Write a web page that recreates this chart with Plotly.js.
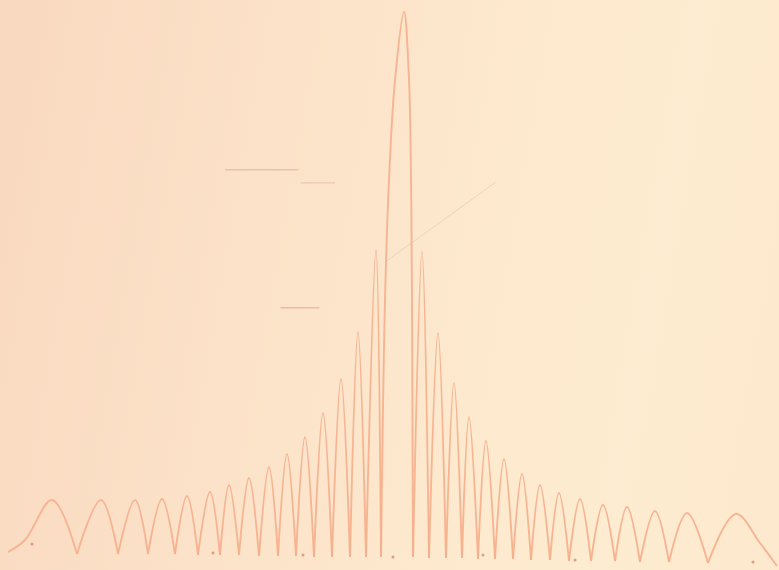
<!DOCTYPE html>
<html>
<head>
<meta charset="utf-8">
<script src="https://cdn.plot.ly/plotly-3.0.1.min.js"></script>
<style>
  html, body { margin: 0; padding: 0; }
  body {
    width: 779px; height: 570px; overflow: hidden;
    background: linear-gradient(100deg, #f9d9c0 0%, #fbe1c7 30%, #fde9ce 60%, #fdecd1 80%, #fde9cd 100%);
  }
  #chart { width: 779px; height: 570px; }
</style>
</head>
<body>
<div id="chart"></div>
<script>
// Trace of the recorded diffraction pattern: position along the scan and recorded intensity
// (intensity measured upward from the chart baseline, read off the picture)
const position = [8, 25, 52, 77, 101, 118, 135, 148, 162, 175, 187, 198, 210, 220, 229, 239, 249, 259,
  269, 278, 287, 296, 305, 314, 323, 332, 341, 350, 358, 366, 376, 381, 385, 389, 395, 404,
  409, 411, 412, 413, 422, 429, 438, 446, 454, 462, 469, 478, 486, 495, 504, 513, 522, 531,
  540, 550, 559, 569, 580, 591, 603, 615, 627, 640, 655, 669, 687, 708, 736, 760, 777];
const intensity = [8, 20, 60, 6, 60, 6, 60, 6, 61, 6, 64, 5, 68, 5, 75, 5, 82, 4,
  93, 4, 106, 4, 123, 3, 147, 3, 181, 3, 228, 3, 310, 3, 260, 380, 480, 548,
  480, 380, 260, 3, 308, 2, 227, 2, 177, 2, 143, 1, 119, 1, 101, 1, 86, 0,
  75, 0, 67, -1, 61, -1, 55, -1, 53, -2, 49, -2, 47, -3, 46, 17, -6];

// Small reference dots printed on the chart paper along the baseline
const dotPosition = [32, 213, 303, 393, 483, 575, 753];
const dotLevel = [16, 7, 5, 3, 5, 0, -2];

// The pen trace meets the baseline in sharp cusps: split the series at every local minimum
// so that each lobe is smoothed on its own.
const segX = [], segY = [];
for (let i = 0; i < position.length; i++) {
  segX.push(position[i]); segY.push(intensity[i]);
  const isMin = i > 0 && i < position.length - 1 &&
    intensity[i] < intensity[i - 1] && intensity[i] < intensity[i + 1];
  if (isMin) {
    segX.push(null); segY.push(null);
    segX.push(position[i]); segY.push(intensity[i]);
  }
}

const traces = [
  {
    x: segX, y: segY, type: 'scatter', mode: 'lines', connectgaps: false,
    line: { color: 'rgba(246,174,140,0.9)', width: 1.9, shape: 'spline', smoothing: 1 },
    hoverinfo: 'skip', showlegend: false
  },
  {
    x: dotPosition, y: dotLevel, type: 'scatter', mode: 'markers',
    marker: { color: 'rgba(215,140,110,0.8)', size: 3 },
    hoverinfo: 'skip', showlegend: false
  }
];

const layout = {
  width: 779, height: 570,
  margin: { l: 0, r: 0, t: 0, b: 0 },
  paper_bgcolor: 'rgba(0,0,0,0)',
  plot_bgcolor: 'rgba(0,0,0,0)',
  showlegend: false,
  xaxis: { range: [0, 779], visible: false, fixedrange: true },
  yaxis: { range: [-10, 560], visible: false, fixedrange: true },
  shapes: [
    { type: 'line', xref: 'paper', yref: 'paper', x0: 0.289, x1: 0.383, y0: 0.702, y1: 0.702,
      line: { color: 'rgba(200,150,130,0.4)', width: 1.5 } },
    { type: 'line', xref: 'paper', yref: 'paper', x0: 0.386, x1: 0.43, y0: 0.679, y1: 0.679,
      line: { color: 'rgba(200,150,130,0.35)', width: 1.2 } },
    { type: 'line', xref: 'paper', yref: 'paper', x0: 0.36, x1: 0.41, y0: 0.46, y1: 0.46,
      line: { color: 'rgba(220,140,110,0.45)', width: 1.5 } },
    { type: 'line', xref: 'paper', yref: 'paper', x0: 0.494, x1: 0.636, y0: 0.54, y1: 0.68,
      line: { color: 'rgba(190,170,150,0.3)', width: 1 } }
  ]
};

Plotly.newPlot('chart', traces, layout, { staticPlot: true, displayModeBar: false });
</script>
</body>
</html>
